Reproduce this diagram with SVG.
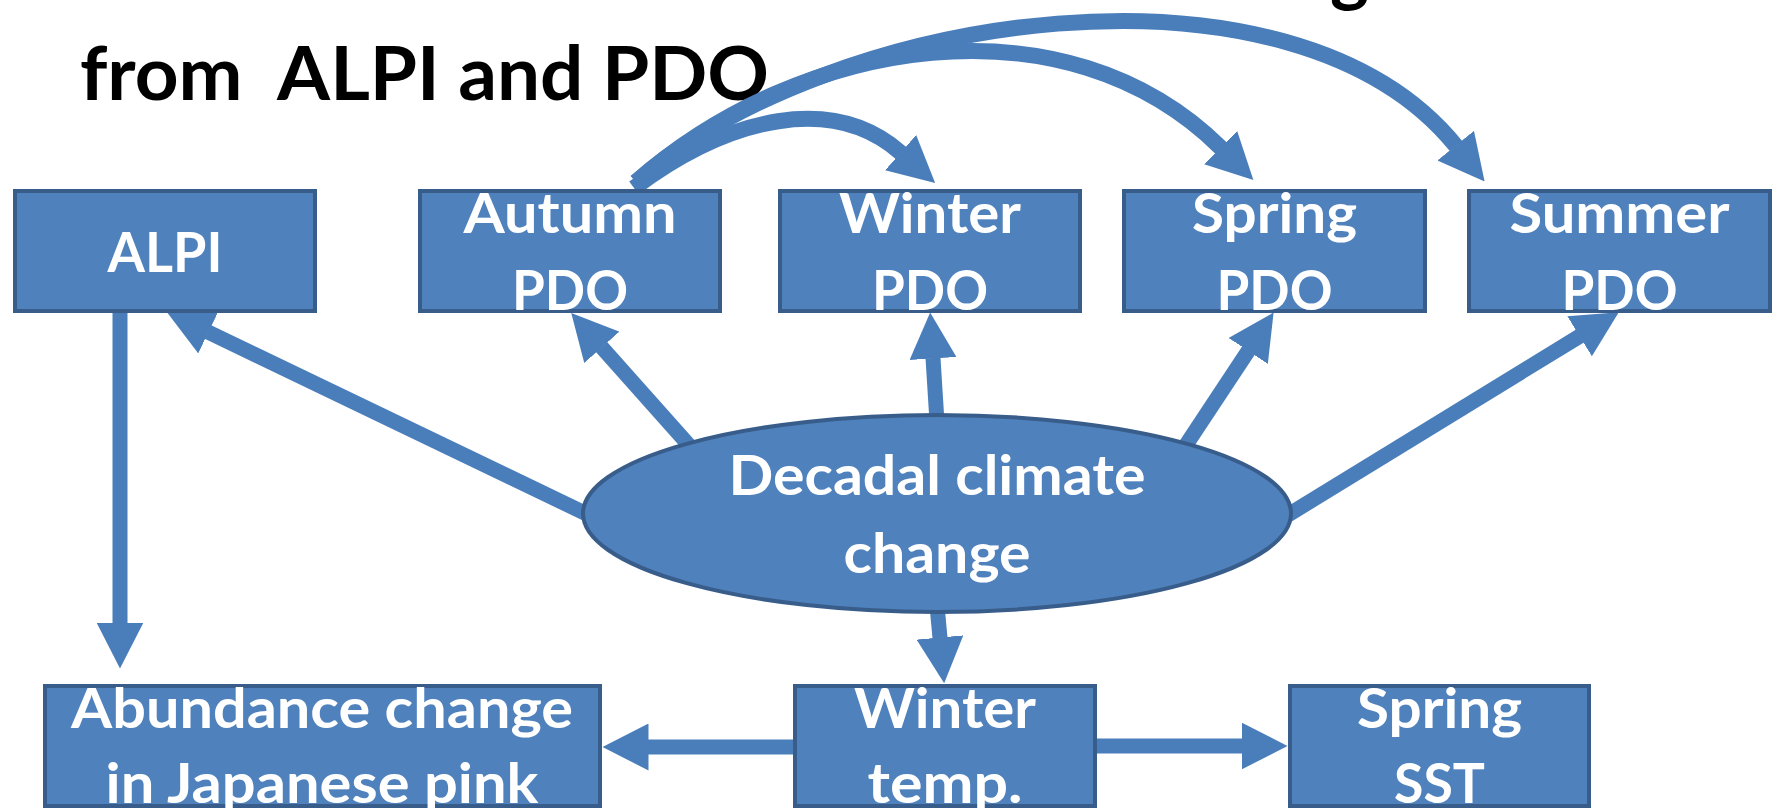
<svg xmlns="http://www.w3.org/2000/svg" width="1781" height="808" viewBox="0 0 1781 808">
<defs>
<marker id="ah" markerUnits="userSpaceOnUse" viewBox="0 0 46 47" refX="0.5" refY="23.5" markerWidth="46" markerHeight="47" orient="auto"><path d="M0,0 L46,23.5 L0,47 Z" fill="#4a7ebb"/></marker>
</defs>
<style>
.node rect, .node ellipse { fill:#4f81bd; stroke:#385d8a; stroke-width:4; }
.lbl { font-family:Lato, "Open Sans", "Liberation Sans", sans-serif; font-weight:700; font-size:56px; fill:#ffffff; text-anchor:middle; }
.title { font-family:Lato, "Open Sans", "Liberation Sans", sans-serif; font-weight:700; font-size:74px; fill:#000000; }
.c { fill:none; stroke:#4a7ebb; stroke-width:15; marker-end:url(#ah); }
.arc { stroke-width:16; }
</style>
<rect x="0" y="0" width="1781" height="808" fill="#ffffff"/>
<text class="title" x="1330" y="-3">g</text>
<text class="title" x="80" y="100" xml:space="preserve" textLength="689" lengthAdjust="spacingAndGlyphs">from  ALPI and PDO</text>
<g id="connectors">
<path class="c arc" d="M634,188 C730,116 833.5,93.6 901,153"/>
<path class="c arc" d="M636,182 C801,37 1065,-6 1221,148"/>
<path class="c arc" d="M636,182 C831,10.4 1292,-56.8 1456,146"/>
<path class="c" d="M120,305 L120,623"/>
<path class="c" d="M595,518 L208,332"/>
<path class="c" d="M695,452 L601.5,347"/>
<path class="c" d="M937.5,430 L933,358"/>
<path class="c" d="M1182,451 L1248.5,350.5"/>
<path class="c" d="M1283,518 L1580,336"/>
<path class="c" d="M936.5,600 L940,638"/>
<path class="c" d="M800,747 L648,747"/>
<path class="c" d="M1090,746 L1242,746"/>
</g>
<g id="alpi" class="node"><rect x="15" y="191" width="300" height="120"/><text class="lbl" x="165" y="272" textLength="115" lengthAdjust="spacingAndGlyphs">ALPI</text></g>
<g id="autumn-pdo" class="node"><rect x="420" y="191" width="300" height="120"/><text class="lbl" x="570" y="233" textLength="213" lengthAdjust="spacingAndGlyphs">Autumn</text><text class="lbl" x="570" y="310" textLength="116" lengthAdjust="spacingAndGlyphs">PDO</text></g>
<g id="winter-pdo" class="node"><rect x="780" y="191" width="300" height="120"/><text class="lbl" x="930" y="233" textLength="182" lengthAdjust="spacingAndGlyphs">Winter</text><text class="lbl" x="930" y="310" textLength="116" lengthAdjust="spacingAndGlyphs">PDO</text></g>
<g id="spring-pdo" class="node"><rect x="1124" y="191" width="301" height="120"/><text class="lbl" x="1274.5" y="233" textLength="165" lengthAdjust="spacingAndGlyphs">Spring</text><text class="lbl" x="1274.5" y="310" textLength="116" lengthAdjust="spacingAndGlyphs">PDO</text></g>
<g id="summer-pdo" class="node"><rect x="1469" y="191" width="301" height="120"/><text class="lbl" x="1619.5" y="233" textLength="220" lengthAdjust="spacingAndGlyphs">Summer</text><text class="lbl" x="1619.5" y="310" textLength="116" lengthAdjust="spacingAndGlyphs">PDO</text></g>
<g id="decadal" class="node"><ellipse cx="937" cy="513.5" rx="354" ry="98.5"/><text class="lbl" x="937" y="495" textLength="417" lengthAdjust="spacingAndGlyphs">Decadal climate</text><text class="lbl" x="937" y="573" textLength="187" lengthAdjust="spacingAndGlyphs">change</text></g>
<g id="abundance" class="node"><rect x="45" y="686" width="555" height="120"/><text class="lbl" x="322" y="728" textLength="502" lengthAdjust="spacingAndGlyphs">Abundance change</text><text class="lbl" x="322" y="803" textLength="433" lengthAdjust="spacingAndGlyphs">in Japanese pink</text></g>
<g id="winter-temp" class="node"><rect x="795" y="686" width="300" height="120"/><text class="lbl" x="945" y="728" textLength="182" lengthAdjust="spacingAndGlyphs">Winter</text><text class="lbl" x="945" y="803" textLength="155" lengthAdjust="spacingAndGlyphs">temp.</text></g>
<g id="spring-sst" class="node"><rect x="1290" y="686" width="299" height="120"/><text class="lbl" x="1439.5" y="728" textLength="165" lengthAdjust="spacingAndGlyphs">Spring</text><text class="lbl" x="1439.5" y="803" textLength="91" lengthAdjust="spacingAndGlyphs">SST</text></g>
</svg>
